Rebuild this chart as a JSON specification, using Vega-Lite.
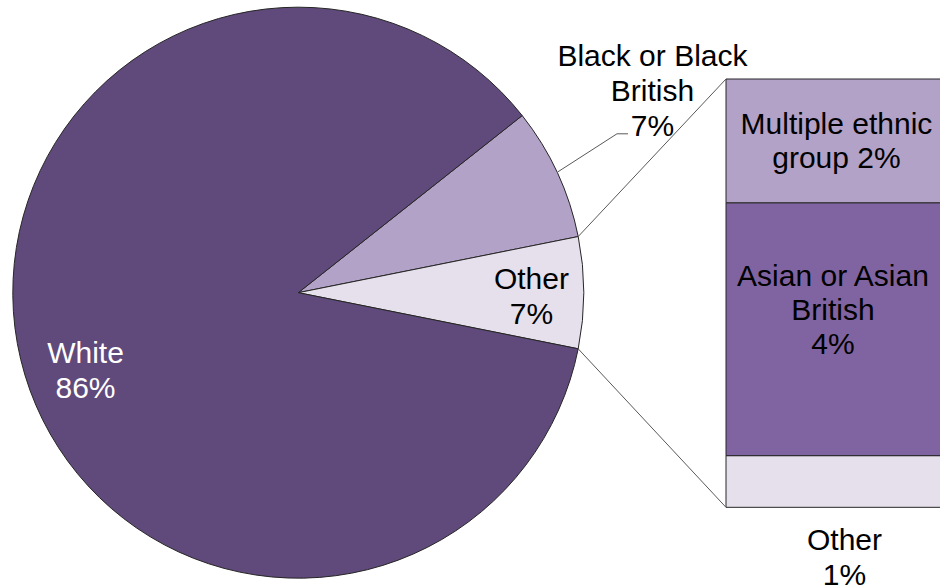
{
  "$schema": "https://vega.github.io/schema/vega-lite/v6.json",
  "width": 940,
  "height": 587,
  "padding": 0,
  "autosize": {"type": "none"},
  "background": "#ffffff",
  "config": {"view": {"stroke": null}},
  "datasets": {
    "pie": [
      {"group": "Black or Black British", "value": 7.5, "k": 1, "label": "Black or Black\nBritish\n7%"},
      {"group": "Other", "value": 6.3, "k": 2, "label": "Other\n7%"},
      {"group": "White", "value": 86.2, "k": 3, "label": "White\n86%"}
    ],
    "bar": [
      {"group": "Other", "value": 0.76, "k": 1, "label": "Other\n1%"},
      {"group": "Asian or Asian British", "value": 3.72, "k": 2, "label": "Asian or Asian\nBritish\n4%"},
      {"group": "Multiple ethnic group", "value": 1.82, "k": 3, "label": "Multiple ethnic\ngroup 2%"}
    ],
    "one": [{}]
  },
  "layer": [
    {
      "data": {"name": "pie"},
      "mark": {"type": "arc", "outerRadius": 285.5, "stroke": "#262626", "strokeWidth": 1},
      "encoding": {
        "x": {"datum": 4.388, "type": "quantitative", "scale": {"domain": [0, 13.828], "nice": false, "zero": false}, "axis": null},
        "y": {"datum": 3.157, "type": "quantitative", "scale": {"domain": [-1.172, 7.462], "nice": false, "zero": false}, "axis": null},
        "theta": {"field": "value", "type": "quantitative", "stack": true, "scale": {"range": [0.9016, 7.1848]}},
        "order": {"field": "k", "type": "quantitative"},
        "color": {
          "field": "group", "type": "nominal", "legend": null,
          "scale": {
            "domain": ["White", "Black or Black British", "Other", "Multiple ethnic group", "Asian or Asian British"],
            "range": ["#604A7B", "#B3A2C7", "#E6E0EC", "#B3A2C7", "#8064A2"]
          }
        }
      }
    },
    {
      "data": {"name": "bar"},
      "transform": [
        {"stack": "value", "groupby": [], "sort": [{"field": "k", "order": "ascending"}], "as": ["y0", "y1"]}
      ],
      "mark": {"type": "bar", "stroke": "#262626", "strokeWidth": 1},
      "encoding": {
        "x": {"datum": 10.68, "type": "quantitative"},
        "x2": {"datum": 14.2},
        "y": {"field": "y0", "type": "quantitative"},
        "y2": {"field": "y1"},
        "color": {"field": "group", "type": "nominal", "legend": null}
      }
    },
    {
      "data": {"name": "one"},
      "mark": {"type": "rule", "stroke": "#595959", "strokeWidth": 1},
      "encoding": {
        "x": {"datum": 8.506, "type": "quantitative"},
        "y": {"datum": 3.983, "type": "quantitative"},
        "x2": {"datum": 10.68},
        "y2": {"datum": 6.3}
      }
    },
    {
      "data": {"name": "one"},
      "mark": {"type": "rule", "stroke": "#595959", "strokeWidth": 1},
      "encoding": {
        "x": {"datum": 8.506, "type": "quantitative"},
        "y": {"datum": 2.331, "type": "quantitative"},
        "x2": {"datum": 10.68},
        "y2": {"datum": 0}
      }
    },
    {
      "data": {"name": "one"},
      "mark": {"type": "rule", "stroke": "#595959", "strokeWidth": 1},
      "encoding": {
        "x": {"datum": 8.208, "type": "quantitative"},
        "y": {"datum": 4.935, "type": "quantitative"},
        "x2": {"datum": 9.076},
        "y2": {"datum": 5.494}
      }
    },
    {
      "data": {"name": "one"},
      "mark": {"type": "rule", "stroke": "#595959", "strokeWidth": 1},
      "encoding": {
        "x": {"datum": 9.076, "type": "quantitative"},
        "y": {"datum": 5.494, "type": "quantitative"},
        "x2": {"datum": 9.238},
        "y2": {"datum": 5.494}
      }
    },
    {
      "data": {"name": "pie"},
      "transform": [{"filter": "datum.group === 'White'"}],
      "mark": {"type": "text", "font": "Liberation Sans", "fontSize": 30, "align": "center", "baseline": "alphabetic", "lineBreak": "\n", "lineHeight": 35, "fill": "#ffffff"},
      "encoding": {
        "x": {"datum": 1.258, "type": "quantitative"},
        "y": {"datum": 2.118, "type": "quantitative"},
        "text": {"field": "label"}
      }
    },
    {
      "data": {"name": "pie"},
      "transform": [{"filter": "datum.group === 'Other'"}],
      "mark": {"type": "text", "font": "Liberation Sans", "fontSize": 30, "align": "center", "baseline": "alphabetic", "lineBreak": "\n", "lineHeight": 35, "fill": "#000000"},
      "encoding": {
        "x": {"datum": 7.818, "type": "quantitative"},
        "y": {"datum": 3.207, "type": "quantitative"},
        "text": {"field": "label"}
      }
    },
    {
      "data": {"name": "pie"},
      "transform": [{"filter": "datum.group === 'Black or Black British'"}],
      "mark": {"type": "text", "font": "Liberation Sans", "fontSize": 30, "align": "center", "baseline": "alphabetic", "lineBreak": "\n", "lineHeight": 35, "fill": "#000000"},
      "encoding": {
        "x": {"datum": 9.598, "type": "quantitative"},
        "y": {"datum": 6.492, "type": "quantitative"},
        "text": {"field": "label"}
      }
    },
    {
      "data": {"name": "bar"},
      "transform": [{"filter": "datum.group === 'Multiple ethnic group'"}],
      "mark": {"type": "text", "font": "Liberation Sans", "fontSize": 30, "align": "center", "baseline": "alphabetic", "lineBreak": "\n", "lineHeight": 34.3, "fill": "#000000"},
      "encoding": {
        "x": {"datum": 12.305, "type": "quantitative"},
        "y": {"datum": 5.491, "type": "quantitative"},
        "text": {"field": "label"}
      }
    },
    {
      "data": {"name": "bar"},
      "transform": [{"filter": "datum.group === 'Asian or Asian British'"}],
      "mark": {"type": "text", "font": "Liberation Sans", "fontSize": 30, "align": "center", "baseline": "alphabetic", "lineBreak": "\n", "lineHeight": 33.8, "fill": "#000000"},
      "encoding": {
        "x": {"datum": 12.254, "type": "quantitative"},
        "y": {"datum": 3.255, "type": "quantitative"},
        "text": {"field": "label"}
      }
    },
    {
      "data": {"name": "bar"},
      "transform": [{"filter": "datum.group === 'Other'"}],
      "mark": {"type": "text", "font": "Liberation Sans", "fontSize": 30, "align": "center", "baseline": "alphabetic", "lineBreak": "\n", "lineHeight": 35, "fill": "#000000"},
      "encoding": {
        "x": {"datum": 12.423, "type": "quantitative"},
        "y": {"datum": -0.628, "type": "quantitative"},
        "text": {"field": "label"}
      }
    }
  ]
}
